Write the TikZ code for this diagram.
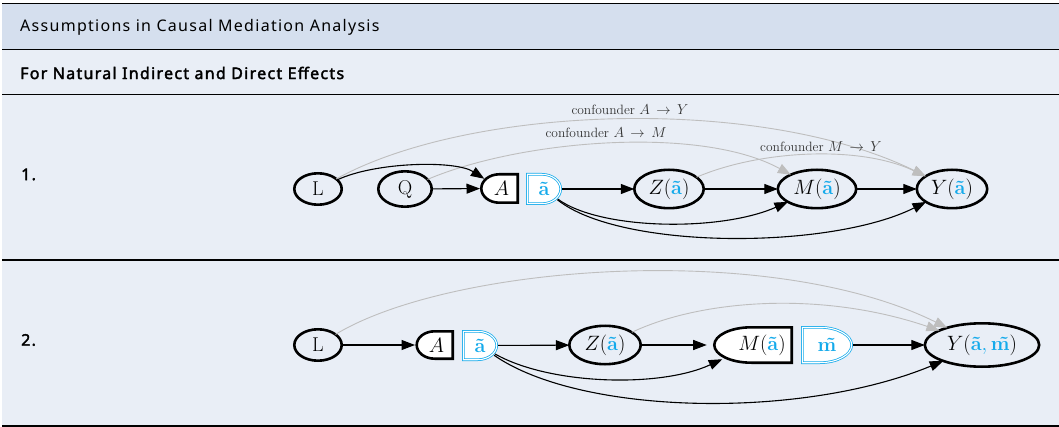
\documentclass[tikz,border=0pt]{standalone}
\usepackage{fontspec}
\setsansfont{Noto Sans}[AutoFakeBold=2.2, LetterSpace=8]
\usetikzlibrary{arrows.meta,shapes.geometric}
\definecolor{hdr}{HTML}{D5DFEE}
\definecolor{bdy}{HTML}{E9EEF6}
\definecolor{iblue}{RGB}{20,170,235}
\definecolor{gedge}{HTML}{BEBEBE}
\newcommand{\ta}{\textcolor{iblue}{\textbf{\~a}}}
\newcommand{\tm}{\textcolor{iblue}{\textbf{\~m}}}
\tikzset{
  ell/.style={ellipse, draw, line width=2.6pt, inner sep=0pt, outer sep=0pt, font=\fontsize{20}{22}\selectfont},
  hid/.style={ellipse, inner sep=0pt, outer sep=0pt, font=\fontsize{20}{22}\selectfont},
  capblack/.style={draw=black, fill=white, line width=2.6pt, line join=miter},
  capblue/.style={draw=iblue, double=white, double distance=1.1pt, line width=0.75pt, fill=white},
  e/.style={-{Triangle[length=13.5pt,width=10pt]}, line width=1.1pt},
  g/.style={draw=gedge, line width=0.9pt, -{Triangle[length=13pt,width=10pt,fill=gedge]}},
  lbl/.style={font=\fontsize{13.5}{15}\selectfont, text=black!80, inner sep=0pt},
  sf/.style={font=\sffamily\fontsize{16}{18}\selectfont, anchor=west, inner sep=0pt},
  sfb/.style={font=\sffamily\bfseries\fontsize{16}{18}\selectfont, anchor=west, inner sep=0pt},
  rule/.style={line width=1.1pt}
}
\begin{document}
\begin{tikzpicture}[x=1pt,y=1pt]
\useasboundingbox (0,0) rectangle (1059,-427);
% bands
\fill[hdr] (2,-3.5) rectangle (1059,-49.5);
\fill[bdy] (2,-49.5) rectangle (1059,-426);
\foreach \yy in {-3.5,-49.5,-94.5,-260,-426} \draw[rule] (2,\yy) -- (1059,\yy);
% header texts
\node[sf] (title) at (20,-27.5) {Assumptions in Causal Mediation Analysis};
\node[sfb] (sub) at (20,-73) {For Natural Indirect and Direct Effects};
\node[sfb] (r1) at (21,-174.5) {1.};
\node[sfb] (r2) at (21,-340) {2.};

% ---------- row 1 ----------
\draw[capblack] (517.7,-174.3) -- (499.3,-174.3) arc[start angle=90,end angle=270,x radius=18,y radius=14.2] -- (517.7,-202.7) -- cycle;
\draw[capblue] (527.3,-174.3) -- (541.7,-174.3) arc[start angle=90,end angle=-90,x radius=19,y radius=14.7] -- (527.3,-203.7) -- cycle;
\node[ell, minimum width=47.4, minimum height=31.4] (L1) at (318,-189) {L};
\node[ell, minimum width=53.4, minimum height=35.4] (Q1) at (405,-189) {Q};
\node[hid, minimum width=39, minimum height=31] (A1) at (499.5,-188.5) {\hspace{4pt}$A$};
\node[hid, minimum width=36, minimum height=32] (at1) at (544,-189) {\ta\hspace{3pt}};
\node[ell, minimum width=69.4, minimum height=38.4] (Z1) at (669,-189) {$Z($\ta$)$};
\node[ell, minimum width=78.4, minimum height=38.4] (M1) at (817,-189) {$M($\ta$)$};
\node[ell, minimum width=70.4, minimum height=38.4] (Y1) at (952,-189) {$Y($\ta$)$};

\draw[g] (L1) .. controls (470,-105) and (760,-95) .. (Y1);
\draw[g] (Q1) .. controls (520,-140) and (700,-125) .. (M1);
\draw[g] (Z1) .. controls (760,-150) and (860,-145) .. (Y1);
\node[lbl] (c1) at (630,-110) {confounder $A\,\rightarrow\,Y$};
\node[lbl] (c2) at (606,-133) {confounder $A\,\rightarrow\,M$};
\node[lbl] (c3) at (821,-147) {confounder $M\,\rightarrow\,Y$};

\draw[e] (L1) .. controls (375,-162) and (455,-160) .. (A1);
\draw[e] (Q1) -- (A1);
\draw[e] (at1) -- (Z1);
\draw[e] (Z1) -- (M1);
\draw[e] (M1) -- (Y1);
\draw[e] (at1) .. controls (600,-230) and (720,-232) .. (M1);
\draw[e] (at1) .. controls (620,-250) and (830,-250) .. (Y1);

% ---------- row 2 ----------
\draw[capblack] (452.7,-331.3) -- (434.7,-331.3) arc[start angle=90,end angle=270,x radius=18,y radius=13.7] -- (452.7,-358.7) -- cycle;
\draw[capblue] (463.3,-331.3) -- (477.7,-331.3) arc[start angle=90,end angle=-90,x radius=19,y radius=14.2] -- (463.3,-359.7) -- cycle;
\draw[capblack] (791.7,-327.3) -- (751.3,-327.3) arc[start angle=90,end angle=270,x radius=37,y radius=17.7] -- (791.7,-362.7) -- cycle;
\draw[capblue] (802.3,-327.3) -- (819.7,-327.3) arc[start angle=90,end angle=-90,x radius=32,y radius=17.7] -- (802.3,-362.7) -- cycle;
\node[ell, minimum width=47.4, minimum height=31.4] (L2) at (318,-345) {L};
\node[hid, minimum width=39, minimum height=30] (A2) at (434.5,-345) {\hspace{4pt}$A$};
\node[hid, minimum width=36, minimum height=31] (at2) at (480,-345.5) {\ta\hspace{3pt}};
\node[ell, minimum width=71.4, minimum height=38.4] (Z2) at (605,-345) {$Z($\ta$)$};
\node[hid, minimum width=80, minimum height=38] (M2) at (753,-345) {\hspace{18pt}$M($\ta$)$};
\node[hid, minimum width=52, minimum height=38] (mt2) at (827,-345) {\tm\hspace{16pt}};
\node[ell, minimum width=114.4, minimum height=43.4] (Y2) at (982,-345) {$Y\bigl($\ta$\textcolor{iblue}{,}\,$\tm$\bigr)$};

\draw[g] (L2) .. controls (450,-265) and (770,-240) .. (Y2);
\draw[g] (Z2) .. controls (700,-300) and (820,-290) .. (Y2);

\draw[e] (L2) -- (A2);
\draw[e] (at2) -- (Z2);
\draw[e] (Z2) -- (M2);
\draw[e] (mt2) -- (Y2);
\draw[e] (at2) .. controls (550,-385) and (660,-388) .. (M2);
\draw[e] (at2) .. controls (580,-415) and (800,-420) .. (Y2);
\end{tikzpicture}
\end{document}
